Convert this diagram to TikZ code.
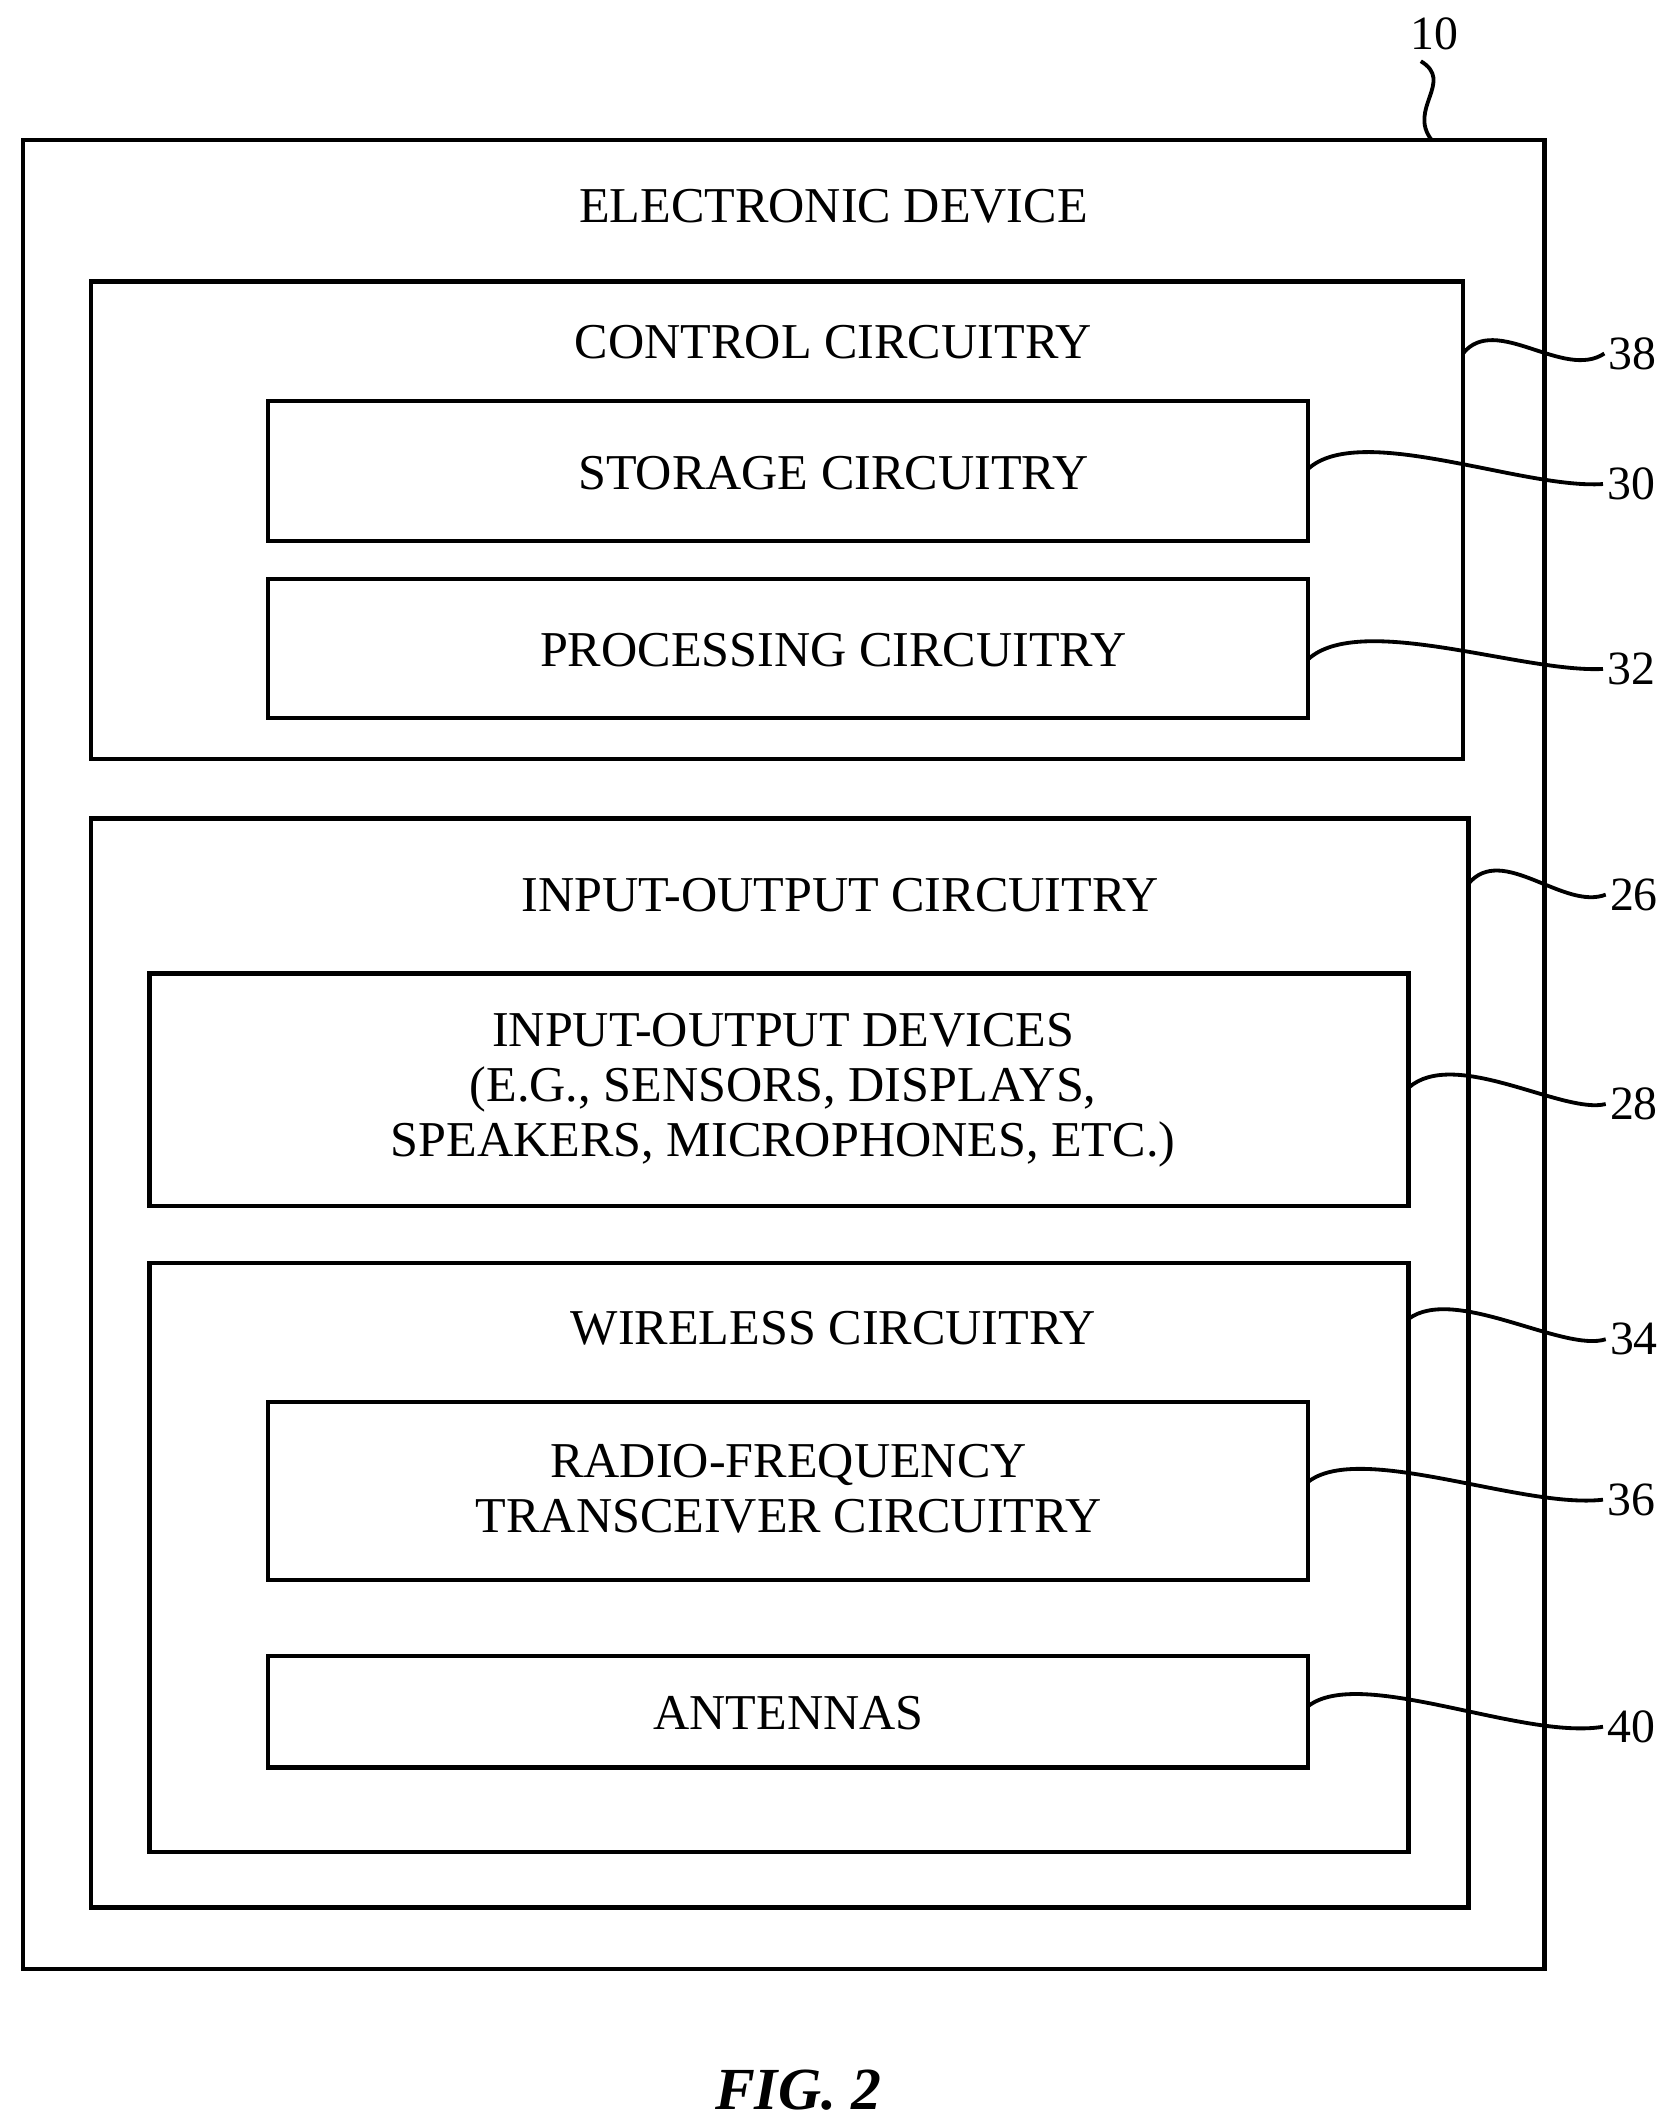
\documentclass[tikz,border=0pt]{standalone}
\usepackage{fontspec}
\setmainfont{Liberation Serif}
\begin{document}
\begin{tikzpicture}[x=0.02cm, y=-0.02cm, line width=1.6pt,
  box/.style={draw, line width=1.8pt},
  title/.style={font=\fontsize{21}{25}\selectfont, align=center},
  num/.style={font=\fontsize{20}{24}\selectfont, inner sep=1pt, anchor=west}]

\useasboundingbox (0,0) rectangle (1225,1560);

% boxes
\draw[box] (17,103) rectangle (1136,1448);
\draw[box] (67,207) rectangle (1076,558);
\draw[box] (197,295) rectangle (962,398);
\draw[box] (197,426) rectangle (962,528);
\draw[box] (67,602) rectangle (1080,1403);
\draw[box] (110,716) rectangle (1036,887);
\draw[box] (110,929) rectangle (1036,1362);
\draw[box] (197,1031) rectangle (962,1162);
\draw[box] (197,1218) rectangle (962,1300);

% texts
\node[title] (device) at (613,152) {ELECTRONIC DEVICE};
\node[title] (control) at (613,252) {CONTROL CIRCUITRY};
\node[title] (storage) at (613,348) {STORAGE CIRCUITRY};
\node[title] (processing) at (613,478) {PROCESSING CIRCUITRY};
\node[title] (io) at (618,658) {INPUT-OUTPUT CIRCUITRY};
\node[title] (iodev) at (576,802) {INPUT-OUTPUT DEVICES\\[-2pt](E.G., SENSORS, DISPLAYS,\\[-2pt]SPEAKERS, MICROPHONES, ETC.)};
\node[title] (wireless) at (613,977) {WIRELESS CIRCUITRY};
\node[title] (rf) at (580,1095) {RADIO-FREQUENCY\\[-2pt]TRANSCEIVER CIRCUITRY};
\node[title] (antennas) at (580,1260) {ANTENNAS};
\node[font=\fontsize{25}{29}\selectfont\bfseries\itshape] (fig) at (587,1537) {FIG. 2};

% reference numerals
\node[font=\fontsize{20}{24}\selectfont, inner sep=1pt] (n10) at (1055,25) {10};
\node[num] (n38) at (1180,260) {38};
\node[num] (n30) at (1179,356) {30};
\node[num] (n32) at (1179,492) {32};
\node[num] (n26) at (1181,658) {26};
\node[num] (n28) at (1181,812) {28};
\node[num] (n34) at (1181,985) {34};
\node[num] (n36) at (1179,1103) {36};
\node[num] (n40) at (1179,1270) {40};

% leaders
\draw (1053,103) .. controls (1035,80) and (1070,60) .. (1045,45);
\draw (1076,260) .. controls (1100,230) and (1150,280) .. (n38.west);
\draw (962,345) .. controls (1000,310) and (1120,360) .. (n30.west);
\draw (962,485) .. controls (1000,450) and (1120,495) .. (n32.west);
\draw (1080,650) .. controls (1105,620) and (1150,670) .. (n26.west);
\draw (1036,800) .. controls (1070,770) and (1150,820) .. (n28.west);
\draw (1036,970) .. controls (1070,945) and (1150,995) .. (n34.west);
\draw (962,1090) .. controls (1000,1060) and (1120,1110) .. (n36.west);
\draw (962,1255) .. controls (1000,1225) and (1120,1280) .. (n40.west);
\end{tikzpicture}
\end{document}
